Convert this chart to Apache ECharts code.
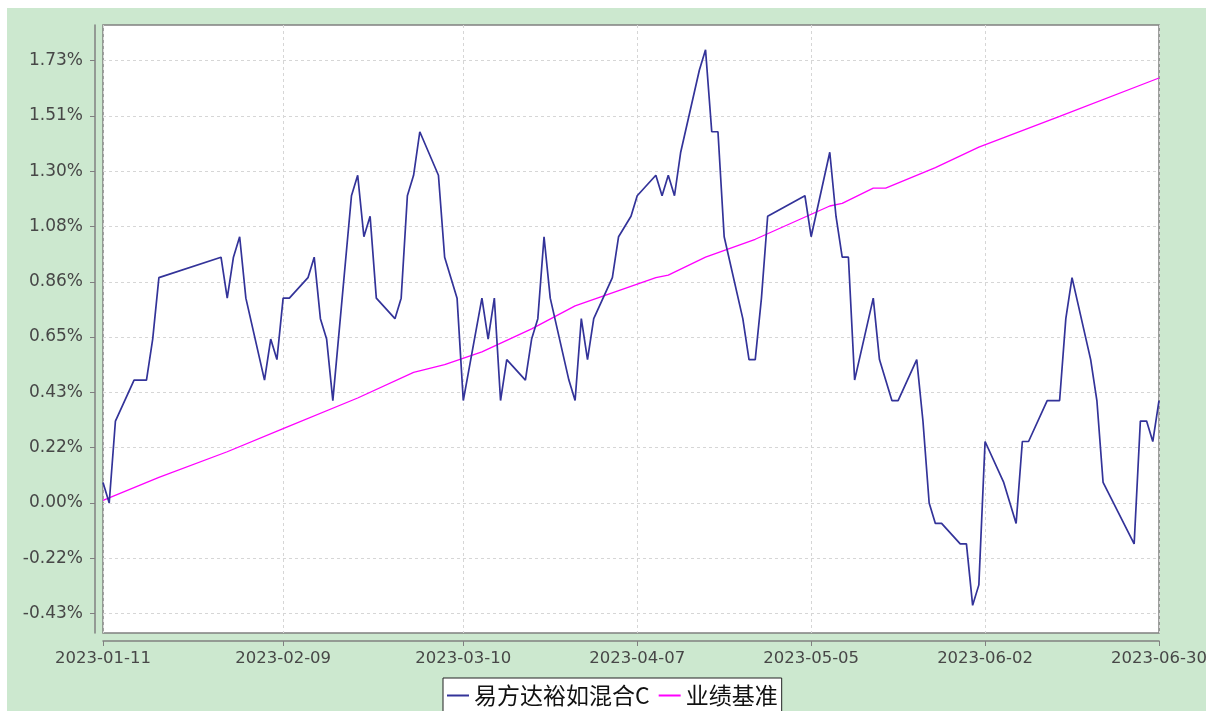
<!DOCTYPE html>
<html>
<head>
<meta charset="utf-8">
<script src="https://cdn.jsdelivr.net/npm/echarts@6/dist/echarts.min.js"></script>
<style>
html, body { margin: 0; padding: 0; background: #fff; }
#chart { position: absolute; left: 7px; top: 8px; width: 1199px; height: 703px; }
</style>
</head>
<body>
<div id="chart"></div>
<script>
const seriesNames = ['易方达裕如混合C', '业绩基准'];

const fundDates = [
    '2023-01-11','2023-01-12','2023-01-13','2023-01-16','2023-01-17','2023-01-18','2023-01-19','2023-01-20',
    '2023-01-30','2023-01-31','2023-02-01','2023-02-02','2023-02-03','2023-02-06','2023-02-07','2023-02-08',
    '2023-02-09','2023-02-10','2023-02-13','2023-02-14','2023-02-15','2023-02-16','2023-02-17','2023-02-20',
    '2023-02-21','2023-02-22','2023-02-23','2023-02-24','2023-02-27','2023-02-28','2023-03-01','2023-03-02',
    '2023-03-03','2023-03-06','2023-03-07','2023-03-08','2023-03-09','2023-03-10','2023-03-13','2023-03-14',
    '2023-03-15','2023-03-16','2023-03-17','2023-03-20','2023-03-21','2023-03-22','2023-03-23','2023-03-24',
    '2023-03-27','2023-03-28','2023-03-29','2023-03-30','2023-03-31','2023-04-03','2023-04-04','2023-04-06',
    '2023-04-07','2023-04-10','2023-04-11','2023-04-12','2023-04-13','2023-04-14','2023-04-17','2023-04-18',
    '2023-04-19','2023-04-20','2023-04-21','2023-04-24','2023-04-25','2023-04-26','2023-04-27','2023-04-28',
    '2023-05-04','2023-05-05','2023-05-08','2023-05-09','2023-05-10','2023-05-11','2023-05-12','2023-05-15',
    '2023-05-16','2023-05-17','2023-05-18','2023-05-19','2023-05-22','2023-05-23','2023-05-24','2023-05-25',
    '2023-05-26','2023-05-29','2023-05-30','2023-05-31','2023-06-01','2023-06-02','2023-06-05','2023-06-06',
    '2023-06-07','2023-06-08','2023-06-09','2023-06-12','2023-06-13','2023-06-14','2023-06-15','2023-06-16',
    '2023-06-19','2023-06-20','2023-06-21','2023-06-26','2023-06-27','2023-06-28','2023-06-29','2023-06-30'
];
const fundValues = [
    0.08, 0.00, 0.32, 0.48, 0.48, 0.48, 0.64, 0.88,
    0.96, 0.80, 0.96, 1.04, 0.80, 0.48, 0.64, 0.56,
    0.80, 0.80, 0.88, 0.96, 0.72, 0.64, 0.40, 1.20,
    1.28, 1.04, 1.12, 0.80, 0.72, 0.80, 1.20, 1.28,
    1.45, 1.28, 0.96, 0.88, 0.80, 0.40, 0.80, 0.64,
    0.80, 0.40, 0.56, 0.48, 0.64, 0.72, 1.04, 0.80,
    0.48, 0.40, 0.72, 0.56, 0.72, 0.88, 1.04, 1.12,
    1.20, 1.28, 1.20, 1.28, 1.20, 1.37, 1.69, 1.77,
    1.45, 1.45, 1.04, 0.72, 0.56, 0.56, 0.80, 1.12,
    1.20, 1.04, 1.37, 1.12, 0.96, 0.96, 0.48, 0.80,
    0.56, 0.48, 0.40, 0.40, 0.56, 0.32, 0.00, -0.08,
    -0.08, -0.16, -0.16, -0.40, -0.32, 0.24, 0.08, 0.00,
    -0.08, 0.24, 0.24, 0.40, 0.40, 0.40, 0.72, 0.88,
    0.56, 0.40, 0.08, -0.16, 0.32, 0.32, 0.24, 0.40
];

const benchDates = [
    '2023-01-11','2023-01-20','2023-01-31','2023-02-09','2023-02-21','2023-03-02','2023-03-07','2023-03-13',
    '2023-03-21','2023-03-28','2023-04-10','2023-04-12','2023-04-18','2023-04-26','2023-05-08','2023-05-10',
    '2023-05-15','2023-05-17','2023-05-25','2023-06-01','2023-06-14','2023-06-30'
];
const benchValues = [
    0.01, 0.10, 0.20, 0.29, 0.41, 0.51, 0.54, 0.59,
    0.68, 0.77, 0.88, 0.89, 0.96, 1.03, 1.16, 1.17,
    1.23, 1.23, 1.31, 1.39, 1.51, 1.66
];

const xTickDates = ['2023-01-11','2023-02-09','2023-03-10','2023-04-07','2023-05-05','2023-06-02','2023-06-30'];
const yTickValues = [-0.432, -0.216, 0, 0.216, 0.432, 0.648, 0.864, 1.08, 1.296, 1.512, 1.728];

// dates -> day number counted from 1970-01-01 (UTC), used on a plain value axis
function toDay(s) {
    const p = s.split('-');
    return Math.round(Date.UTC(+p[0], +p[1] - 1, +p[2]) / 86400000);
}
function pad(n) {
    return n < 10 ? '0' + n : '' + n;
}
function fmtDay(v) {
    const d = new Date(Math.round(v) * 86400000);
    return d.getUTCFullYear() + '-' + pad(d.getUTCMonth() + 1) + '-' + pad(d.getUTCDate());
}

const fundData = fundDates.map((d, i) => [toDay(d), fundValues[i]]);
const benchData = benchDates.map((d, i) => [toDay(d), benchValues[i]]);
const xTicks = xTickDates.map(toDay);

const axisGray = '#808080';
const gridDash = '#d6d6d6';

const option = {
    animation: false,
    backgroundColor: '#cce8cf',
    grid: {
        left: 96,
        top: 17,
        width: 1056,
        height: 608,
        show: true,
        backgroundColor: '#fff',
        borderColor: axisGray,
        borderWidth: 1.5,
        containLabel: false,
        outerBoundsMode: 'none'
    },
    legend: {
        left: 436,
        top: 670,
        padding: [6, 4],
        itemGap: 9,
        itemWidth: 22,
        itemHeight: 2,
        icon: 'rect',
        backgroundColor: '#fff',
        borderColor: '#222',
        borderWidth: 1,
        borderRadius: 0,
        textStyle: {
            fontFamily: 'Noto Sans CJK SC',
            fontSize: 23,
            color: '#111'
        },
        data: seriesNames
    },
    xAxis: {
        type: 'value',
        min: xTicks[0],
        max: xTicks[xTicks.length - 1],
        offset: 8,
        axisLine: { show: true, onZero: false, lineStyle: { color: axisGray, width: 1.5 } },
        axisTick: { show: true, length: 5, lineStyle: { color: axisGray }, customValues: xTicks },
        axisLabel: {
            customValues: xTicks,
            formatter: (v) => fmtDay(v),
            hideOverlap: false,
            margin: 9,
            fontFamily: 'DejaVu Sans',
            fontSize: 16.5,
            color: '#474747'
        },
        splitLine: { show: true, lineStyle: { color: gridDash, type: [3, 3], width: 1 } }
    },
    yAxis: {
        type: 'value',
        min: -0.508,
        max: 1.867,
        offset: 8,
        axisLine: { show: true, onZero: false, lineStyle: { color: axisGray, width: 1.5 } },
        axisTick: { show: true, length: 5, lineStyle: { color: axisGray }, customValues: yTickValues },
        axisLabel: {
            customValues: yTickValues,
            formatter: (v) => v.toFixed(2) + '%',
            margin: 12,
            fontFamily: 'DejaVu Sans',
            fontSize: 17,
            color: '#474747',
            padding: [3, 0, 0, 0]
        },
        splitLine: { show: true, lineStyle: { color: gridDash, type: [3, 3], width: 1 } }
    },
    series: [
        {
            name: seriesNames[0],
            type: 'line',
            symbol: 'none',
            data: fundData,
            itemStyle: { color: '#333399' },
            lineStyle: { color: '#333399', width: 1.7 },
            z: 3
        },
        {
            name: seriesNames[1],
            type: 'line',
            symbol: 'none',
            data: benchData,
            itemStyle: { color: '#ff00ff' },
            lineStyle: { color: '#ff00ff', width: 1.3 },
            z: 2
        }
    ]
};

const myChart = echarts.init(document.getElementById('chart'));
myChart.setOption(option);
</script>
</body>
</html>
